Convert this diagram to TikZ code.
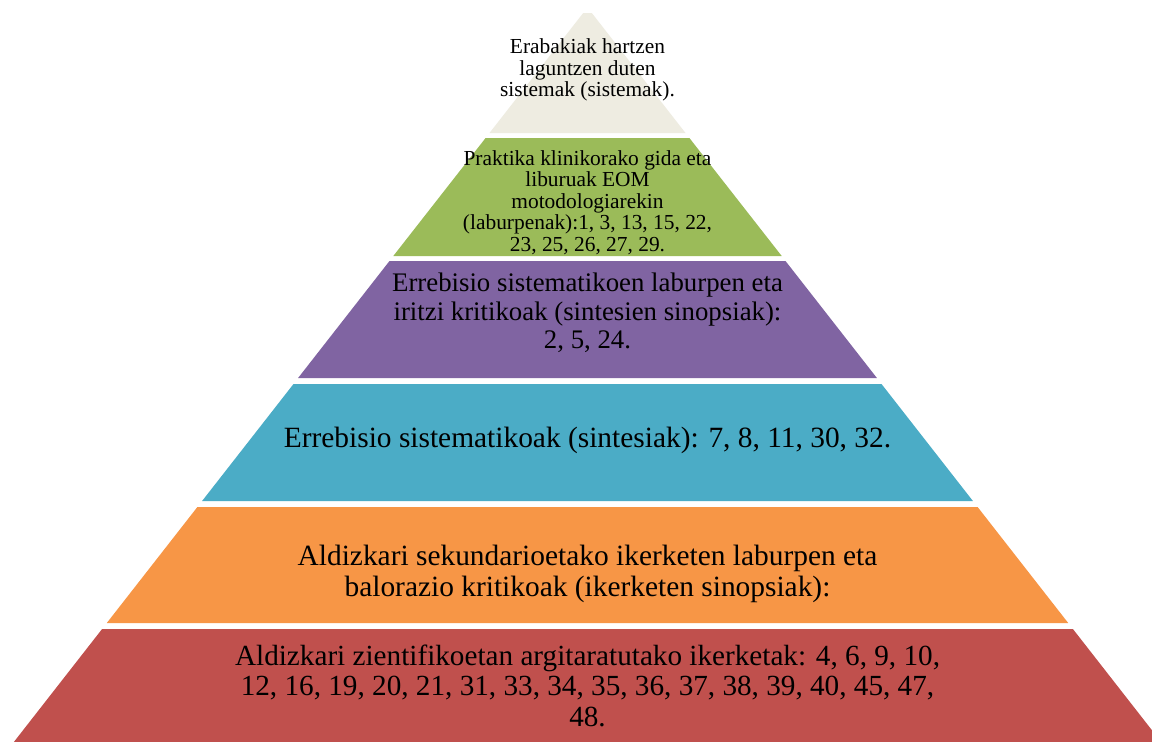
\documentclass[tikz,border=0pt]{standalone}
\usepackage{fontspec}
\setmainfont{Liberation Serif}
\definecolor{cBeige}{HTML}{EEECE1}
\definecolor{cGreen}{HTML}{9BBB59}
\definecolor{cPurple}{HTML}{8064A2}
\definecolor{cBlue}{HTML}{4BACC6}
\definecolor{cOrange}{HTML}{F79646}
\definecolor{cRed}{HTML}{C0504D}
\tikzset{
  lbl/.style={align=center, inner sep=0pt, text=black},
  small/.style={lbl, font=\fontsize{21.4}{21.5}\selectfont},
  mid/.style={lbl, font=\fontsize{26.8}{28.5}\selectfont},
  big/.style={lbl, font=\fontsize{29.4}{31}\selectfont},
  bigr/.style={lbl, font=\fontsize{29.2}{30.5}\selectfont},
}
\newcommand{\layer}[5]{% color, ytop, ybottom, hwtop, hwbottom
  \fill[#1] (587.5-#4,#2) -- (587.5+#4,#2) -- (587.5+#5,#3) -- (587.5-#5,#3) -- cycle;}
\begin{document}
\begin{tikzpicture}[x=1pt,y=-1pt]
\useasboundingbox (0,0) rectangle (1152,742);
\clip (0,0) rectangle (1152,742);
\fill[white] (0,0) rectangle (1152,742);
\layer{cBeige}{13}{133}{4.3}{98.0}
\layer{cGreen}{138}{256}{101.9}{194.2}
\layer{cPurple}{261}{378}{198.0}{289.4}
\layer{cBlue}{384}{501}{294.0}{385.4}
\layer{cOrange}{507}{623}{390.1}{480.7}
\layer{cRed}{629}{760}{485.4}{587.7}
\node[small] (t1) at (587.5,70) {Erabakiak hartzen\\laguntzen duten\\sistemak (sistemak).};
\node[small] (t2) at (587.5,202.5) {Praktika klinikorako gida eta\\liburuak EOM\\motodologiarekin\\(laburpenak):1, 3, 13, 15, 22,\\23, 25, 26, 27, 29.};
\node[mid] (t3) at (587.5,313) {Errebisio sistematikoen laburpen eta\\iritzi kritikoak (sintesien sinopsiak):\\2, 5, 24.};
\node[big] (t4) at (587.5,440) {Errebisio sistematikoak (sintesiak): 7, 8, 11, 30, 32.};
\node[big] (t5) at (587.5,574) {Aldizkari sekundarioetako ikerketen laburpen eta\\balorazio kritikoak (ikerketen sinopsiak):};
\node[bigr] (t6) at (587.5,685.5) {Aldizkari zientifikoetan argitaratutako ikerketak: 4, 6, 9, 10,\\12, 16, 19, 20, 21, 31, 33, 34, 35, 36, 37, 38, 39, 40, 45, 47,\\48.};
\end{tikzpicture}
\end{document}
